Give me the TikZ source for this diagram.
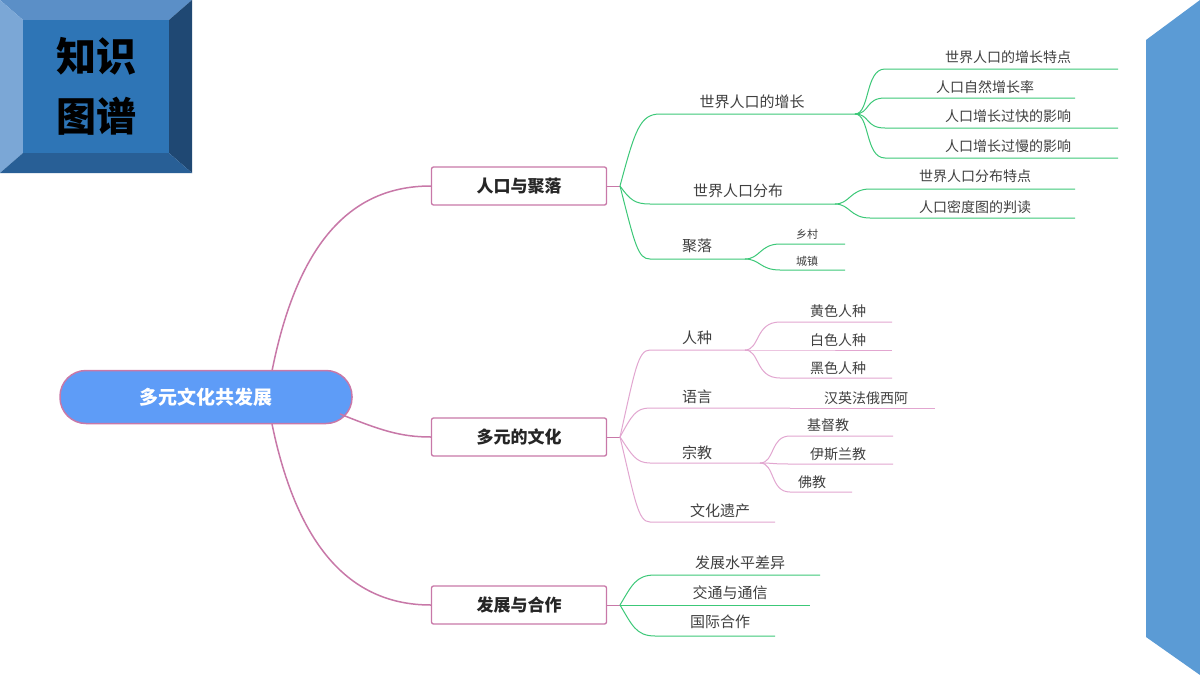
\documentclass[tikz,border=0pt]{standalone}
\usepackage{fontspec}
\setmainfont{Noto Sans CJK SC}
\begin{document}
\begin{tikzpicture}[x=1pt,y=-1pt,
  gl/.style={draw=grn, line width=1pt},
  pl/.style={draw=pnk, line width=1pt},
  rl/.style={draw=rpk, line width=1.5pt},
  t2/.style={text=txt, font=\fontsize{15}{15}\selectfont, inner sep=0pt},
  t3/.style={text=txt, font=\fontsize{14}{14}\selectfont, inner sep=0pt},
  t4/.style={text=txt, font=\fontsize{11}{11}\selectfont, inner sep=0pt},
  lvl/.style={draw=rpk, line width=1.3pt, rounded corners=2pt, fill=white, minimum width=175pt, minimum height=38pt, font=\bfseries\fontsize{17}{17}\selectfont, text=black!85}]
\definecolor{grn}{HTML}{3CC878}
\definecolor{pnk}{HTML}{E2A6D0}
\definecolor{rpk}{HTML}{C878A8}
\definecolor{txt}{HTML}{404040}
\useasboundingbox (0,0) rectangle (1200,675);
\fill[white] (0,0) rectangle (1200,675);
% right panel
\fill[fill={rgb,255:red,91;green,155;blue,213}] (1146,40) -- (1200,0) -- (1200,675) -- (1146,637) -- cycle;
% badge
\fill[fill={rgb,255:red,91;green,143;blue,199}] (0,0) -- (192,0) -- (169,20) -- (23,20) -- cycle;
\fill[fill={rgb,255:red,123;green,167;blue,214}] (0,0) -- (23,20) -- (23,153) -- (0,173) -- cycle;
\fill[fill={rgb,255:red,31;green,72;blue,115}] (192,0) -- (192,173) -- (169,153) -- (169,20) -- cycle;
\fill[fill={rgb,255:red,40;green,95;blue,150}] (0,173) -- (23,153) -- (169,153) -- (192,173) -- cycle;
\fill[fill={rgb,255:red,46;green,117;blue,182}] (23,20) rectangle (169,153);
\node[font=\bfseries\fontsize{40}{40}\selectfont, text=black] (b1) at (96,56) {知识};
\node[font=\bfseries\fontsize{40}{40}\selectfont, text=black] (b2) at (96,116) {图谱};
% root
\node[draw=rpk, line width=1.5pt, rounded corners=26pt, fill={rgb,255:red,94;green,156;blue,247}, minimum width=292pt, minimum height=53pt, text=white, font=\bfseries\fontsize{19}{19}\selectfont] (root) at (206,397) {多元文化共发展};
\node[lvl] (A) at (519,186) {人口与聚落};
\node[lvl] (B) at (519,437) {多元的文化};
\node[lvl] (C) at (519,605) {发展与合作};
\draw[rl] (272,371) .. controls (300,230) and (360,186) .. (A.west);
\draw[rl] (340,414) .. controls (380,430) and (400,437) .. (B.west);
\draw[rl] (272,424) .. controls (300,560) and (360,605) .. (C.west);
% ---- A branch
\coordinate (ha) at (620,186);
\draw[rl,line width=1pt] (A.east) -- (ha);
\coordinate (a1s) at (660,114); \coordinate (a1e) at (855,114);
\coordinate (a2s) at (650,204); \coordinate (a2e) at (835,204);
\coordinate (a3s) at (650,259); \coordinate (a3e) at (745,259);
\draw[gl] (ha) .. controls (635,130) and (640,114) .. (a1s) -- (a1e);
\draw[gl] (ha) .. controls (630,200) and (635,204) .. (a2s) -- (a2e);
\draw[gl] (ha) .. controls (635,245) and (638,259) .. (a3s) -- (a3e);
\node[t2] (a1) at (752,102) {世界人口的增长};
\node[t2] (a2) at (738,191) {世界人口分布};
\node[t2] (a3) at (697,246) {聚落};
\foreach \y/\e/\n in {69/1118/p1,98/1075/p2,128/1118/p3,158/1118/p4}{
  \coordinate (\n) at (\e,\y);
  \draw[gl] (a1e) .. controls (870,114) and (865,\y) .. (885,\y) -- (\n);}
\node[t3] at (1008,57) {世界人口的增长特点};
\node[t3] at (985,87) {人口自然增长率};
\node[t3] at (1008,116) {人口增长过快的影响};
\node[t3] at (1008,146) {人口增长过慢的影响};
\foreach \y/\n in {189/q1,218/q2}{
  \coordinate (\n) at (1075,\y);
  \draw[gl] (a2e) .. controls (850,204) and (850,\y) .. (870,\y) -- (\n);}
\node[t3] at (975,176) {世界人口分布特点};
\node[t3] at (975,207) {人口密度图的判读};
\foreach \y/\n in {244/r1,270/r2}{
  \coordinate (\n) at (845,\y);
  \draw[gl] (a3e) .. controls (760,259) and (760,\y) .. (780,\y) -- (\n);}
\node[t4] at (807,234) {乡村};
\node[t4] at (807,261) {城镇};
% ---- B branch
\coordinate (hb) at (620,437);
\draw[rl,line width=1pt] (B.east) -- (hb);
\coordinate (b1s) at (650,350); \coordinate (b1e) at (745,350);
\coordinate (b2s) at (650,408); \coordinate (b2e) at (790,408);
\coordinate (b3s) at (650,463); \coordinate (b3e) at (760,463);
\coordinate (b4s) at (650,522); \coordinate (b4e) at (775,522);
\draw[pl] (hb) .. controls (635,370) and (638,350) .. (b1s) -- (b1e);
\draw[pl] (hb) .. controls (632,415) and (636,408) .. (b2s) -- (b2e);
\draw[pl] (hb) .. controls (632,455) and (636,463) .. (b3s) -- (b3e);
\draw[pl] (hb) .. controls (635,500) and (638,522) .. (b4s) -- (b4e);
\node[t2] at (697,338) {人种};
\node[t2] at (697,397) {语言};
\node[t2] at (697,453) {宗教};
\node[t2] at (720,511) {文化遗产};
\foreach \y/\n in {322/s1,350/s2,378/s3}{
  \coordinate (\n) at (892,\y);
  \draw[pl] (b1e) .. controls (760,350) and (755,\y) .. (780,\y) -- (\n);}
\node[t3] at (838,311) {黄色人种};
\node[t3] at (838,340) {白色人种};
\node[t3] at (838,368) {黑色人种};
\coordinate (u1) at (935,408);
\draw[pl] (b2e) -- (u1);
\node[t3] at (866,398) {汉英法俄西阿};
\foreach \y/\e/\n in {436/893/v1,464/893/v2,492/852/v3}{
  \coordinate (\n) at (\e,\y);
  \draw[pl] (b3e) .. controls (775,463) and (770,\y) .. (790,\y) -- (\n);}
\node[t3] at (828,425) {基督教};
\node[t3] at (838,454) {伊斯兰教};
\node[t3] at (812,482) {佛教};
% ---- C branch
\coordinate (hc) at (620,605);
\draw[rl,line width=1pt] (C.east) -- (hc);
\coordinate (c1) at (820,575); \coordinate (c2) at (810,605); \coordinate (c3) at (775,636);
\draw[gl] (hc) .. controls (632,585) and (636,575) .. (655,575) -- (c1);
\draw[gl] (hc) -- (c2);
\draw[gl] (hc) .. controls (632,625) and (636,636) .. (655,636) -- (c3);
\node[t2] at (740,563) {发展水平差异};
\node[t2] at (730,593) {交通与通信};
\node[t2] at (720,622) {国际合作};
\end{tikzpicture}
\end{document}
